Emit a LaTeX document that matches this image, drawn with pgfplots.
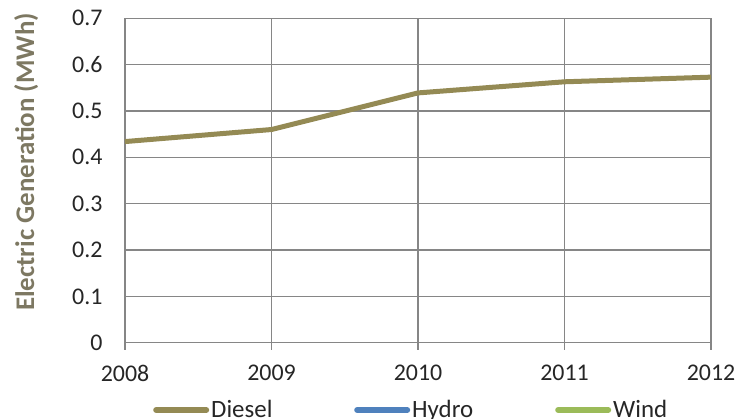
\documentclass[border=0pt]{standalone}
\usepackage{fontspec}
\setmainfont{Carlito}
\usepackage{pgfplots}
\pgfplotsset{compat=1.18}
\usetikzlibrary{calc}

\definecolor{diesel}{RGB}{148,138,84}
\definecolor{hydro}{RGB}{79,129,189}
\definecolor{wind}{RGB}{155,187,89}
\definecolor{gridgray}{RGB}{134,134,134}
\definecolor{labelgray}{RGB}{125,120,98}
\definecolor{ticktext}{RGB}{38,38,38}

\begin{document}
\begin{tikzpicture}
\begin{axis}[
  scale only axis,
  width=586bp, height=324.4bp,
  xmin=2008, xmax=2012, ymin=0, ymax=0.7,
  xtick={2008,2009,2010,2011,2012},
  ytick={0,0.1,0.2,0.3,0.4,0.5,0.6,0.7},
  /pgf/number format/1000 sep={},
  /pgf/number format/assume math mode=true,
  grid=major,
  major grid style={gridgray, line width=1.3bp},
  axis line style={gridgray, line width=1.3bp},
  tick pos=left,
  tick align=outside,
  major tick length=7bp,
  xtick style={gridgray, line width=1.3bp},
  ytick style={draw=none},
  tick label style={font=\fontsize{24}{28}\selectfont, text=ticktext, inner sep=0pt},
  xticklabel style={anchor=north, yshift=-15.3bp},
  yticklabel style={anchor=east, xshift=-15.3bp},
  ylabel={Electric Generation (MWh)},
  every axis y label/.style={at={(rel axis cs:-0.155,0.557)}, rotate=90, anchor=base,
    font=\fontsize{27}{31}\selectfont\bfseries, text=labelgray},
  legend columns=3,
  legend image code/.code={\draw[#1, line width=6bp, line cap=round] (0bp,0bp) -- (50bp,0bp);},
  legend style={at={(rel axis cs:0.0478,-0.2075)}, anchor=west, draw=none, fill=none,
    inner sep=0pt, font=\fontsize{25}{29}\selectfont, text=ticktext,
    nodes={inner sep=0pt},
    /tikz/every odd column/.append style={column sep=2bp},
    /tikz/every even column/.append style={text width=143bp}},
  legend cell align=left,
]
\addplot[diesel, line width=5bp, line join=round] coordinates {
  (2008,0.434) (2009,0.460) (2010,0.539) (2011,0.563) (2012,0.573)
};
\addlegendentry{Diesel}
\addlegendimage{hydro}
\addlegendentry{Hydro}
\addlegendimage{wind}
\addlegendentry{Wind}
\coordinate (sw) at (rel axis cs:0,0);
\coordinate (ne) at (rel axis cs:1,1);
\end{axis}
\pgfresetboundingbox
\useasboundingbox ($(sw)+(-125bp,-76.3bp)$) rectangle ($(ne)+(25bp,18.3bp)$);
\end{tikzpicture}
\end{document}
